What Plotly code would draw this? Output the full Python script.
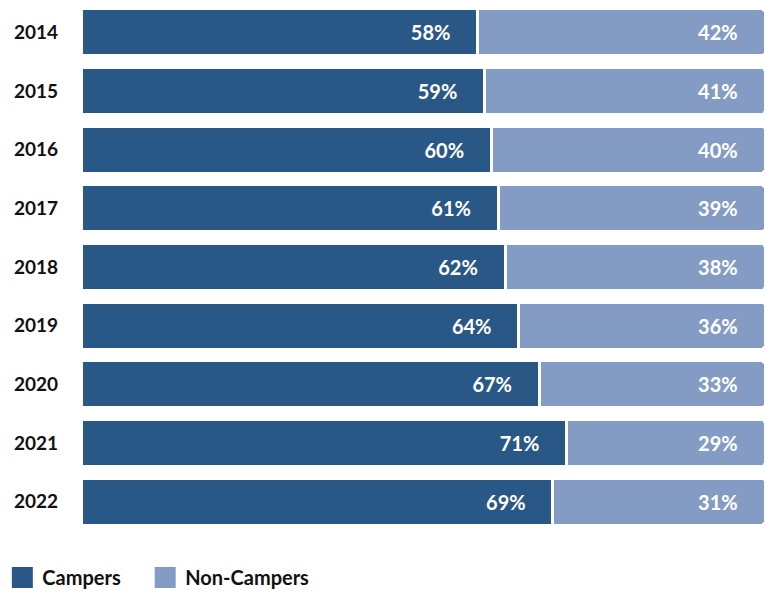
import plotly.graph_objects as go

years = ["2014", "2015", "2016", "2017", "2018", "2019", "2020", "2021", "2022"]
campers = [58, 59, 60, 61, 62, 64, 67, 71, 69]
non_campers = [42, 41, 40, 39, 38, 36, 33, 29, 31]
series_names = ["Campers", "Non-Campers"]

DARK = "#2A5886"
LIGHT = "#849CC3"
FONT = "Lato"
pad = "\u00a0" * 5

fig = go.Figure()
for i, (name, vals, col) in enumerate([(series_names[0], campers, DARK),
                                        (series_names[1], non_campers, LIGHT)]):
    fig.add_trace(go.Bar(
        y=years, x=vals, orientation="h", name=name, showlegend=False,
        marker=dict(color=col, line=dict(color="white", width=3), cornerradius=3),
        text=[f"{v}%{pad}" for v in vals], textposition="inside",
        insidetextanchor="end", textangle=0,
        textfont=dict(color="white", size=20, family=FONT, weight="bold"),
        hoverinfo="skip",
    ))
    # legend entry (no data drawn)
    label = name + ("\u00a0" * 4 if i == 0 else "")
    fig.add_trace(go.Scatter(
        x=[None], y=[None], mode="markers", name=label,
        marker=dict(symbol="square", size=22, color=col,
                    line=dict(color=col, width=6)),
        hoverinfo="skip",
    ))

fig.update_layout(
    width=765, height=597,
    barmode="stack", bargap=0.2,
    margin=dict(l=81, r=0, t=3, b=66),
    plot_bgcolor="white", paper_bgcolor="white",
    font=dict(family=FONT, color="#111111"),
    xaxis=dict(range=[0, 100], visible=False, fixedrange=True),
    yaxis=dict(autorange="reversed", showgrid=False, showline=False, ticks="",
               tickfont=dict(size=19, family=FONT, weight="bold", color="#111111"),
               ticklabelstandoff=22, fixedrange=True),
    legend=dict(orientation="h", x=-0.115, xanchor="left",
                yref="container", y=0, yanchor="bottom",
                font=dict(size=20, family=FONT, weight="bold", color="#111111"),
                itemsizing="trace", traceorder="normal"),
)

fig.write_html("out.html", post_script="document.body.style.margin='0';",
               config={"displayModeBar": False})
